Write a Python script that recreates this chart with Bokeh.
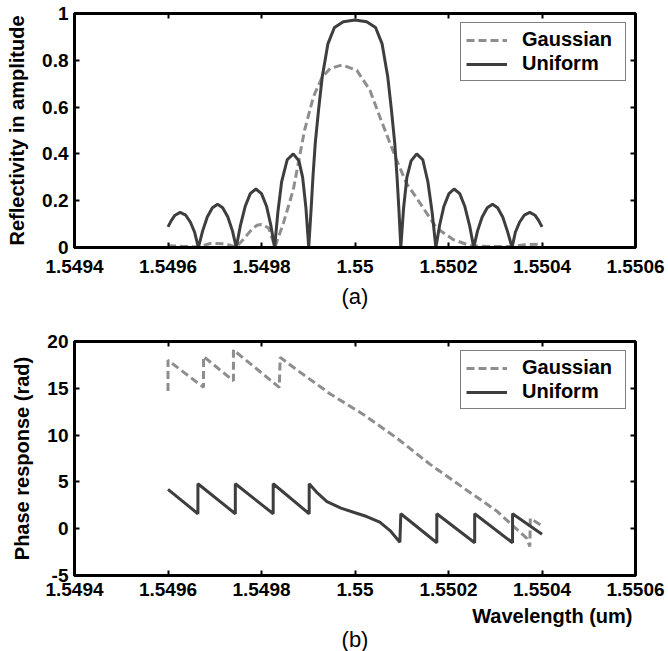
from bokeh.plotting import figure
from bokeh.layouts import column
from bokeh.models import (Range1d, FixedTicker, LinearAxis, CustomJSTickFormatter, Title)
from bokeh.embed import file_html
from bokeh.resources import INLINE

# ---------------- data ----------------
x_ticks = [1.5494, 1.5496, 1.5498, 1.55, 1.5502, 1.5504, 1.5506]
refl_ticks = [0, 0.2, 0.4, 0.6, 0.8, 1.0]
phase_ticks = [-5, 0, 5, 10, 15, 20]

# (a) reflectivity, uniform grating
uni_refl_x = [1.549600, 1.549607, 1.549615, 1.549626, 1.549638, 1.549648, 1.549657, 1.549665,
              1.549674, 1.549684, 1.549695, 1.549706, 1.549717, 1.549728, 1.549738, 1.549746,
              1.549755, 1.549765, 1.549776, 1.549788, 1.549800, 1.549811, 1.549820, 1.549828,
              1.549835, 1.549843, 1.549855, 1.549868, 1.549880, 1.549888, 1.549895, 1.549901,
              1.549906, 1.549910, 1.549915, 1.549922, 1.549930, 1.549942, 1.549956, 1.549975,
              1.550000,
              1.550025, 1.550044, 1.550058, 1.550070, 1.550078, 1.550085, 1.550090, 1.550094,
              1.550098,
              1.550104, 1.550111, 1.550120, 1.550132, 1.550145, 1.550156, 1.550165, 1.550173,
              1.550181, 1.550190, 1.550201, 1.550212, 1.550224, 1.550235, 1.550245, 1.550254,
              1.550262, 1.550272, 1.550283, 1.550294, 1.550305, 1.550316, 1.550326, 1.550336,
              1.550343, 1.550352, 1.550362, 1.550374, 1.550385, 1.550393, 1.550400]
uni_refl_y = [0.088, 0.115, 0.138, 0.150, 0.138, 0.108, 0.065, 0.0,
              0.07, 0.13, 0.17, 0.185, 0.17, 0.13, 0.07, 0.0,
              0.095, 0.175, 0.23, 0.25, 0.23, 0.175, 0.095, 0.0,
              0.15, 0.28, 0.375, 0.40, 0.37, 0.30, 0.17, 0.0,
              0.16, 0.30, 0.446, 0.587, 0.73, 0.87, 0.94, 0.965,
              0.972,
              0.965, 0.94, 0.87, 0.73, 0.587, 0.446, 0.30, 0.16,
              0.0,
              0.17, 0.30, 0.37, 0.40, 0.375, 0.28, 0.15, 0.0,
              0.095, 0.175, 0.23, 0.25, 0.23, 0.175, 0.095, 0.0,
              0.07, 0.13, 0.17, 0.185, 0.17, 0.13, 0.07, 0.0,
              0.065, 0.108, 0.138, 0.150, 0.138, 0.115, 0.088]

# (a) reflectivity, gaussian apodised grating
gau_refl_x = [1.549600, 1.549630, 1.549665, 1.549690, 1.549722, 1.549746, 1.549761, 1.549776,
              1.549790, 1.549800, 1.549815, 1.549829, 1.549847, 1.549868, 1.549892, 1.549911,
              1.549929, 1.549947, 1.549972, 1.550004, 1.550032, 1.550053, 1.550075, 1.550089,
              1.550110, 1.550139, 1.550174, 1.550210, 1.550246, 1.550288, 1.550335, 1.550363,
              1.550400]
gau_refl_y = [0.008, 0.005, 0.002, 0.017, 0.016, 0.002, 0.034, 0.07,
              0.095, 0.098, 0.084, 0.003, 0.105, 0.247, 0.50, 0.644,
              0.725, 0.765, 0.78, 0.757, 0.672, 0.559, 0.445, 0.374,
              0.275, 0.19, 0.084, 0.034, 0.008, 0.004, 0.004, 0.012,
              0.015]

# (b) phase response, gaussian
gau_ph_x = [1.549600, 1.549600, 1.549676, 1.549676, 1.549740, 1.549740, 1.549838, 1.549840,
            1.549883, 1.549947, 1.550018, 1.550089, 1.550160, 1.550231, 1.550303, 1.550338,
            1.550367, 1.550374, 1.550375, 1.550400]
gau_ph_y = [14.7, 18.0, 15.1, 18.4, 15.8, 19.1, 15.1, 18.3,
            16.7, 14.4, 12.2, 9.7, 6.9, 4.4, 1.9, 0.3,
            -1.0, -1.9, 1.1, 0.3]

# (b) phase response, uniform
uni_ph_x = [1.549600, 1.549664, 1.549664, 1.549744, 1.549744, 1.549825, 1.549825, 1.549902,
            1.549902, 1.549920, 1.549940, 1.549970, 1.550000, 1.550025, 1.550053, 1.550075,
            1.550096, 1.550098, 1.550175, 1.550175, 1.550256, 1.550256, 1.550337, 1.550337,
            1.550400]
uni_ph_y = [4.2, 1.6, 4.8, 1.6, 4.8, 1.6, 4.8, 1.6,
            4.8, 3.8, 2.9, 2.2, 1.7, 1.3, 0.7, -0.2,
            -1.45, 1.6, -1.5, 1.6, -1.5, 1.6, -1.5, 1.6,
            -0.6]

# ---------------- styling ----------------
FONT = "Liberation Sans"
UNI_COLOR = "#3e3e3e"
GAU_COLOR = "#8e8e8e"
FS = "19px"
FS_LAB = "20px"


def mirror_axis(ticks):
    return LinearAxis(ticker=FixedTicker(ticks=ticks),
                      formatter=CustomJSTickFormatter(code="return '';"),
                      major_label_text_font_size="1px", major_label_text_color=None,
                      major_label_standoff=0, axis_line_color=None, major_tick_in=5,
                      major_tick_out=0, major_tick_line_width=2, minor_tick_line_color=None,
                      axis_label=None)


def style(p, yticks, yfmt, label_standoff_x):
    xa = p.below[0]
    ya = p.left[0]
    xa.ticker = FixedTicker(ticks=x_ticks)
    ya.ticker = FixedTicker(ticks=yticks)
    xa.formatter = CustomJSTickFormatter(code="return tick.toFixed(4).replace(/\\.?0+$/, '');")
    ya.formatter = CustomJSTickFormatter(code=yfmt)
    for ax in (xa, ya):
        ax.axis_line_width = 3
        ax.axis_line_color = "black"
        ax.major_tick_in = 5
        ax.major_tick_out = 0
        ax.major_tick_line_width = 2
        ax.major_tick_line_color = "black"
        ax.minor_tick_line_color = None
        ax.major_label_text_font = FONT
        ax.major_label_text_font_style = "bold"
        ax.major_label_text_font_size = FS
        ax.major_label_text_color = "black"
        ax.axis_label_text_font = FONT
        ax.axis_label_text_font_style = "bold"
        ax.axis_label_text_font_size = FS_LAB
        ax.axis_label_text_color = "black"
    xa.major_label_standoff = label_standoff_x
    ya.major_label_standoff = 6
    ya.axis_label_standoff = 11
    p.add_layout(mirror_axis(x_ticks), "above")
    p.add_layout(mirror_axis(yticks), "right")
    p.xgrid.grid_line_color = None
    p.ygrid.grid_line_color = None
    p.outline_line_color = "black"
    p.outline_line_width = 3
    p.outline_line_alpha = 1.0
    p.background_fill_color = "white"
    p.border_fill_color = "white"
    return xa, ya


def style_legend(p):
    lg = p.legend[0]
    lg.location = "top_right"
    lg.margin = 9
    lg.padding = 5
    lg.spacing = 1
    lg.glyph_width = 41
    lg.glyph_height = 20
    lg.label_standoff = 15
    lg.label_width = 98
    lg.label_height = 20
    lg.label_text_font = FONT
    lg.label_text_font_style = "bold"
    lg.label_text_font_size = FS_LAB
    lg.label_text_color = "black"
    lg.border_line_color = "black"
    lg.border_line_width = 1
    lg.background_fill_color = "white"
    lg.background_fill_alpha = 1.0


# ---------------- (a) ----------------
p1 = figure(width=668, height=320, output_backend="svg", toolbar_location=None,
            x_range=Range1d(1.5494, 1.5506), y_range=Range1d(0, 1),
            min_border_left=74, min_border_right=33, min_border_top=13, min_border_bottom=73)
p1.line(gau_refl_x, gau_refl_y, line_color=GAU_COLOR, line_width=3, line_dash="8 4",
        legend_label="Gaussian")
p1.line(uni_refl_x, uni_refl_y, line_color=UNI_COLOR, line_width=3, legend_label="Uniform")
xa1, ya1 = style(p1, refl_ticks, "return tick.toFixed(1).replace(/\\.?0+$/, '');", 12)
ya1.axis_label = "Reflectivity in amplitude"
xa1.axis_label = "(a)"
xa1.axis_label_text_font_style = "normal"
xa1.axis_label_text_font_size = "22px"
xa1.axis_label_standoff = 8
style_legend(p1)

# ---------------- (b) ----------------
p2 = figure(width=668, height=331, output_backend="svg", toolbar_location=None,
            x_range=Range1d(1.5494, 1.5506), y_range=Range1d(-5, 20),
            min_border_left=74, min_border_right=33, min_border_top=21, min_border_bottom=76)
p2.line(gau_ph_x, gau_ph_y, line_color=GAU_COLOR, line_width=3, line_dash="8 4",
        legend_label="Gaussian")
p2.line(uni_ph_x, uni_ph_y, line_color=UNI_COLOR, line_width=3, legend_label="Uniform")
xa2, ya2 = style(p2, phase_ticks, "return tick.toFixed(0);", 7)
ya2.axis_label = "Phase response (rad)"
style_legend(p2)
p2.add_layout(Title(text="Wavelength (um)", align="right", text_font=FONT,
                    text_font_style="bold", text_font_size=FS_LAB, text_color="black",
                    standoff=8, offset=3), "below")
p2.add_layout(Title(text="(b)", align="center", text_font=FONT,
                    text_font_style="normal", text_font_size="22px", text_color="black",
                    standoff=-11, offset=0), "below")

layout = column(p1, p2)
open("out.html", "w").write(file_html(layout, INLINE))
